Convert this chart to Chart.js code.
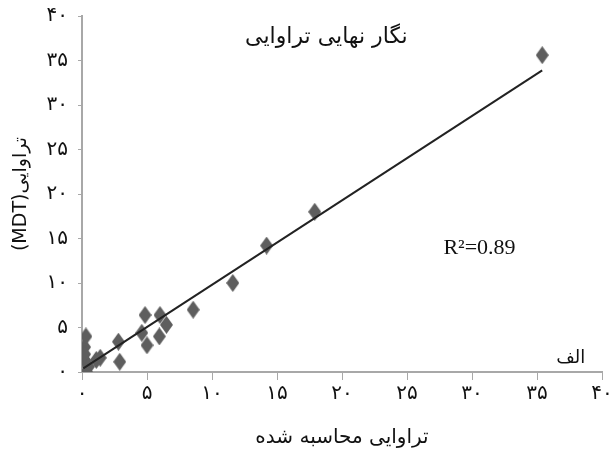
<!DOCTYPE html>
<html>

<head>
    <title>Permeability final chart</title>
    <script src="https://cdn.jsdelivr.net/npm/chart.js"></script>
    <style>
        body { margin: 0; background: #fff; }
        #wrap { width: 614px; height: 452px; }
    </style>
</head>

<body>
    <div id="wrap">
        <canvas id="perm-chart" width="614" height="452"></canvas>
    </div>

    <script>
        // values
        const calcPerm = [0.2, 0.3, 0.2, 0.2, 0.5, 1.1, 1.4, 0.35, 2.8, 2.9, 4.6, 4.85, 5.0, 5.95, 6.0, 6.5, 8.55, 11.6, 14.2, 17.9, 35.4];
        const mdtPerm = [2.8, 4.0, 1.35, 2.0, 0.6, 1.35, 1.6, 0.0, 3.4, 1.15, 4.4, 6.4, 3.0, 4.0, 6.4, 5.3, 7.0, 10.0, 14.2, 18.0, 35.6];
        const fitX = [0.1, 35.4];
        const fitY = [0.4, 33.9];
        const axisTicks = [0, 5, 10, 15, 20, 25, 30, 35, 40];

        const chartTitle = 'نگار نهایی تراوایی';
        const xTitle = 'تراوایی محاسبه شده';
        const yTitle = '(MDT)تراوایی';
        const r2Text = 'R²=0.89';
        const panelLabel = 'الف';

        const faDigits = '۰۱۲۳۴۵۶۷۸۹';
        const toFa = v => String(v).replace(/\d/g, d => faDigits[d]);

        // diamond marker, a bit taller than wide
        const diamond = document.createElement('canvas');
        diamond.width = 13;
        diamond.height = 18;
        const dctx = diamond.getContext('2d');
        dctx.fillStyle = '#5e5e5e';
        dctx.beginPath();
        dctx.moveTo(6.5, 0);
        dctx.lineTo(13, 9);
        dctx.lineTo(6.5, 18);
        dctx.lineTo(0, 9);
        dctx.closePath();
        dctx.fill();

        const points = calcPerm.map((x, i) => ({ x: x, y: mdtPerm[i] }));
        const fitLine = fitX.map((x, i) => ({ x: x, y: fitY[i] }));

        // extra texts: title inside plot, R2 and panel label
        const notes = {
            id: 'notes',
            afterDraw(chart) {
                const ctx = chart.ctx;
                const xs = chart.scales.x, ys = chart.scales.y;
                const area = chart.chartArea;
                ctx.save();
                ctx.fillStyle = '#111';
                ctx.textBaseline = 'middle';

                ctx.font = '22px "DejaVu Sans"';
                ctx.textAlign = 'center';
                ctx.fillText(chartTitle, xs.getPixelForValue(18.8), ys.getPixelForValue(37.6));

                ctx.font = '22px "Liberation Serif"';
                ctx.textAlign = 'left';
                ctx.fillText(r2Text, xs.getPixelForValue(27.8), ys.getPixelForValue(13.9));

                ctx.font = '18px "DejaVu Sans"';
                ctx.textAlign = 'center';
                ctx.fillText(panelLabel, xs.getPixelForValue(37.6), area.bottom - 14);
                ctx.restore();
            }
        };

        const ctx = document.getElementById('perm-chart').getContext('2d');
        new Chart(ctx, {
            data: {
                datasets: [
                    {
                        type: 'line',
                        data: fitLine,
                        borderColor: '#222',
                        borderWidth: 2,
                        pointRadius: 0,
                        fill: false,
                        order: 1
                    },
                    {
                        type: 'scatter',
                        data: points,
                        pointStyle: diamond,
                        order: 2
                    }
                ]
            },
            options: {
                responsive: false,
                animation: false,
                layout: {
                    padding: { top: 16, right: 12, left: 0, bottom: 0 }
                },
                plugins: {
                    legend: { display: false },
                    tooltip: { enabled: false }
                },
                scales: {
                    x: {
                        type: 'linear',
                        min: 0,
                        max: 40,
                        afterBuildTicks: s => { s.ticks = axisTicks.map(v => ({ value: v })); },
                        afterFit: s => { s.height = 80; s.paddingLeft = 0; s.paddingRight = 0; },
                        border: { display: true, color: '#a8a8a8', width: 2 },
                        grid: { drawOnChartArea: false, drawTicks: true, tickLength: 8, color: '#a8a8a8' },
                        ticks: {
                            padding: 2,
                            color: '#111',
                            font: { family: 'DejaVu Sans', size: 20 },
                            callback: v => toFa(v)
                        },
                        title: {
                            display: true,
                            text: xTitle,
                            color: '#111',
                            font: { family: 'DejaVu Sans', size: 20 },
                            padding: { top: 0, bottom: 2 }
                        }
                    },
                    y: {
                        type: 'linear',
                        min: 0,
                        max: 40,
                        afterBuildTicks: s => { s.ticks = axisTicks.map(v => ({ value: v })); },
                        afterFit: s => { s.width = 82; s.paddingTop = 0; s.paddingBottom = 0; },
                        border: { display: true, color: '#a8a8a8', width: 2 },
                        grid: { drawOnChartArea: false, drawTicks: true, tickLength: 4, color: '#a8a8a8' },
                        ticks: {
                            padding: 10,
                            color: '#111',
                            font: { family: 'DejaVu Sans', size: 20 },
                            callback: v => toFa(v)
                        },
                        title: {
                            display: true,
                            text: yTitle,
                            color: '#111',
                            font: { family: 'DejaVu Sans', size: 19 },
                            padding: { top: 10, bottom: 0 }
                        }
                    }
                }
            },
            plugins: [notes]
        });
    </script>
</body>

</html>
